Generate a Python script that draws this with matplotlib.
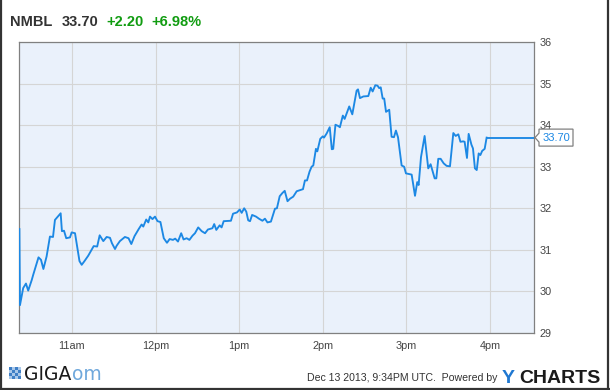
import matplotlib
matplotlib.use('Agg')
import matplotlib.pyplot as plt
import matplotlib.transforms as mtrans
from matplotlib.patches import Polygon, Rectangle
from matplotlib.lines import Line2D

plt.rcParams['font.family'] = ['Liberation Sans', 'DejaVu Sans']

# ---------------- data ----------------
ticker = "NMBL"
last_price = "33.70"
change = "+2.20"
change_pct = "+6.98%"

# minutes since midnight (ET) and price
times = [622.3, 622.7, 625.0, 627.0, 628.6, 631.1, 632.2, 636.0, 637.8, 639.5, 641.8, 644.2, 646.4, 647.8,
         651.9, 652.8, 654.3, 655.9, 658.6, 659.8, 662.2, 665.4, 667.0, 669.0, 671.7, 675.6, 678.1, 679.9,
         682.5, 684.9, 687.3, 688.7, 690.9, 692.1, 694.4, 698.0, 700.6, 702.6, 704.9, 707.9, 710.0, 711.2,
         713.3, 714.8, 716.0, 717.8, 719.6, 721.4, 723.5, 725.9, 728.2, 730.1, 732.5, 734.1, 736.1, 738.4,
         740.1, 742.3, 744.3, 746.5, 748.3, 750.6, 753.1, 755.5, 757.6, 760.8, 762.1, 763.6, 766.0, 767.4,
         768.9, 774.1, 775.6, 778.4, 780.4, 781.8, 783.6, 785.1, 786.5, 787.8, 789.3, 792.1, 794.2, 796.7,
         798.5, 800.3, 802.8, 805.7, 807.1, 809.1, 811.1, 812.7, 814.7, 816.5, 818.8, 821.3, 824.9, 825.8,
         827.2, 828.7, 830.5, 832.0, 833.2, 835.1, 836.1, 838.2, 840.0, 840.9, 842.8, 845.0, 846.5, 847.5,
         849.1, 851.1, 852.3, 854.4, 855.7, 859.0, 861.2, 864.3, 865.3, 866.7, 869.1, 872.7, 874.4, 875.8,
         877.7, 879.3, 880.5, 881.6, 883.0, 884.1, 885.4, 887.7, 889.4, 891.1, 892.5, 894.0, 896.6, 898.4,
         899.7, 902.6, 903.8, 906.2, 907.8, 908.8, 910.5, 913.1, 915.7, 917.4, 920.3, 921.5, 922.9, 924.6,
         926.8, 928.9, 931.3, 933.7, 935.4, 937.3, 938.8, 940.8, 941.8, 943.5, 944.7, 946.7, 947.8, 949.2,
         950.5, 951.9, 953.1, 954.4, 956.2, 957.6]
prices = [31.50, 29.67, 30.08, 30.19, 30.02, 30.27, 30.40, 30.82, 30.76, 30.54, 30.84, 31.32, 31.31, 31.72,
          31.88, 31.45, 31.46, 31.28, 31.30, 31.42, 31.40, 30.73, 30.64, 30.73, 30.86, 31.09, 31.08, 31.35,
          31.21, 31.31, 31.29, 31.16, 31.02, 31.10, 31.21, 31.31, 31.28, 31.14, 31.33, 31.50, 31.61, 31.56,
          31.73, 31.66, 31.80, 31.74, 31.80, 31.69, 31.67, 31.28, 31.17, 31.26, 31.24, 31.27, 31.20, 31.40,
          31.25, 31.28, 31.24, 31.34, 31.40, 31.54, 31.45, 31.40, 31.49, 31.52, 31.62, 31.48, 31.59, 31.54,
          31.69, 31.70, 31.87, 31.90, 31.97, 31.89, 32.00, 31.92, 31.71, 31.69, 31.84, 31.80, 31.75, 31.70,
          31.75, 31.66, 31.68, 31.99, 32.00, 32.29, 32.37, 32.42, 32.17, 32.23, 32.28, 32.41, 32.45, 32.46,
          32.67, 32.67, 32.88, 33.00, 33.03, 33.43, 33.37, 33.67, 33.73, 33.70, 33.80, 33.95, 33.42, 33.43,
          34.01, 33.98, 33.95, 34.23, 34.15, 34.45, 34.26, 34.83, 34.86, 34.65, 34.69, 34.70, 34.90, 34.81,
          34.96, 34.95, 34.89, 34.91, 34.64, 34.64, 34.32, 34.37, 33.72, 33.71, 33.87, 33.71, 33.03, 33.00,
          32.84, 32.82, 32.81, 32.30, 32.63, 32.56, 33.23, 33.74, 32.96, 33.06, 32.72, 32.72, 33.19, 33.19,
          33.08, 33.02, 33.01, 33.81, 33.74, 33.78, 33.60, 33.61, 33.60, 33.21, 33.79, 33.53, 33.44, 32.96,
          32.92, 33.32, 33.28, 33.38, 33.43, 33.70]

hour_ticks = [660, 720, 780, 840, 900, 960]
hour_labels = ["11am", "12pm", "1pm", "2pm", "3pm", "4pm"]
price_ticks = [29, 30, 31, 32, 33, 34, 35, 36]
X_MIN, X_MAX = 622.0, 991.6
Y_MIN, Y_MAX = 29, 36
timestamp = "Dec 13 2013, 9:34PM UTC.  Powered by"

LINE_BLUE = '#1C88E4'

# ---------------- figure ----------------
W, H = 610, 390
fig = plt.figure(figsize=(W / 100, H / 100), dpi=100)
fig.patch.set_facecolor('white')

L, R, T, B = 19, 534, 42, 333
ax = fig.add_axes([L / W, 1 - B / H, (R - L) / W, (B - T) / H])
ax.set_facecolor('#EAF1FB')

ax.plot(times, prices, color=LINE_BLUE, lw=1.35, solid_joinstyle='round', zorder=3)
ax.plot([times[-1], X_MAX], [prices[-1], prices[-1]], color=LINE_BLUE, lw=1.35, zorder=3)

ax.set_xlim(X_MIN, X_MAX)
ax.set_ylim(Y_MIN, Y_MAX)
ax.set_xticks(hour_ticks)
ax.set_xticklabels(hour_labels)
ax.set_yticks(price_ticks)
ax.set_yticklabels([str(v) for v in price_ticks])
ax.yaxis.tick_right()
ax.tick_params(axis='both', length=0, labelsize=7.8, colors='#444444')
ax.tick_params(axis='x', pad=6)
ax.tick_params(axis='y', pad=4)
ax.grid(True, color='#D5D5D5', lw=0.8)
ax.set_axisbelow(True)
for s in ax.spines.values():
    s.set_color('#808080')
    s.set_linewidth(0.9)

# last price callout
blend = mtrans.blended_transform_factory(ax.transAxes, ax.transData)
last_val = prices[-1]
tr = mtrans.Affine2D() + mtrans.ScaledTranslation(1, last_val, blend)
verts = [(1, 0), (5, 4.5), (5, 8.5), (39, 8.5), (39, -8.5), (5, -8.5), (5, -4.5)]
poly = Polygon(verts, closed=True, transform=tr, facecolor='white', edgecolor='#808080',
               lw=0.9, clip_on=False, zorder=5)
ax.add_patch(poly)
ax.annotate(f"{last_val:.2f}", xy=(1, last_val), xycoords=blend, xytext=(22, 0),
            textcoords='offset pixels', ha='center', va='center', fontsize=8,
            color=LINE_BLUE, zorder=6, annotation_clip=False)

# header
hy = 1 - 26 / H
fig.text(10 / W, hy, ticker, fontsize=10.5, fontweight='bold', color='#333333', va='baseline')
fig.text(62 / W, hy, last_price, fontsize=10.5, fontweight='bold', color='#333333', va='baseline')
fig.text(106 / W, hy, change, fontsize=10.5, fontweight='bold', color='#119C11', va='baseline')
fig.text(151 / W, hy, change_pct, fontsize=10.5, fontweight='bold', color='#119C11', va='baseline')

# footer: gigaom logo
ix0, iy0, isz = 9, 367, 12
n = 4
cell = isz / n
for i in range(n):
    for j in range(n):
        c = '#3f7fc6' if (i + j) % 2 == 0 else '#a9c8ea'
        fig.patches.append(Rectangle(((ix0 + i * cell) / W, 1 - (iy0 + (j + 1) * cell) / H),
                                     cell / W, cell / H, transform=fig.transFigure,
                                     facecolor=c, edgecolor='none'))
fig.text(24 / W, 1 - 380 / H, "GIGA", fontsize=13.5, color='#1a1a1a', va='baseline',
         family=['DejaVu Sans'])
fig.text(72 / W, 1 - 380 / H, "om", fontsize=13.5, color='#6fa8dc', va='baseline',
         family=['DejaVu Sans'])

# footer: timestamp + ycharts
fig.text(497 / W, 1 - 381 / H, timestamp, fontsize=7.6, color='#333333', ha='right', va='baseline')
fig.text(502 / W, 1 - 383 / H, "Y", fontsize=14, fontweight='bold', color='#1F78D1', va='baseline')
fig.text(519 / W, 1 - 383 / H, "CHARTS", fontsize=14, fontweight='bold', color='#1a1a1a', va='baseline')

# outer frame (left, right, bottom)
for xs, ys in [([1 / W, 1 / W], [0, 1]), ([1 - 2 / W, 1 - 2 / W], [0, 1]), ([0, 1], [1.5 / H, 1.5 / H])]:
    fig.lines.append(Line2D(xs, ys, transform=fig.transFigure, color='#333333', lw=1.6))

fig.savefig('out.png', dpi=100)
